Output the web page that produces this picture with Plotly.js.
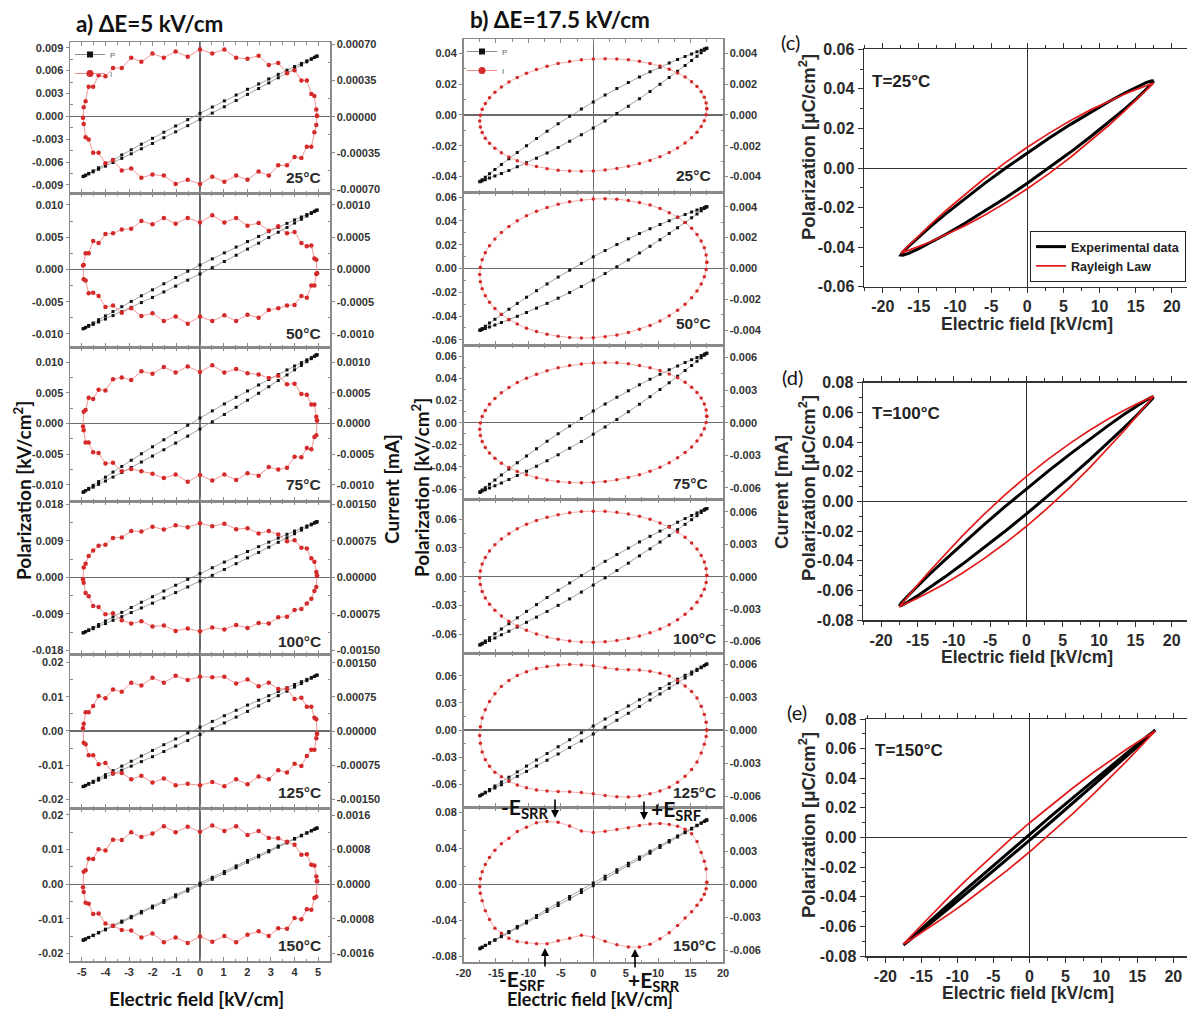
<!DOCTYPE html>
<html><head><meta charset="utf-8">
<script src="https://cdn.plot.ly/plotly-3.0.1.min.js"></script>
<style>html,body{margin:0;padding:0;background:#fff}#chart{width:1187px;height:1012px}</style>
</head><body><div id="chart"></div>
<script>
// ---------------- DATA ----------------
const temps = ['25°C','50°C','75°C','100°C','125°C','150°C'];
// column a (ΔE = 5 kV/cm): field samples [kV/cm]
const E_a = [4.95,4.92,4.84,4.71,4.52,4.29,4,3.68,3.31,2.91,2.48,2.01,1.53,1.03,0.52,0,-0.52,-1.03,-1.53,-2.01,-2.48,-2.91,-3.31,-3.68,-4,-4.29,-4.52,-4.71,-4.84,-4.92,-4.95,-4.92,-4.84,-4.71,-4.52,-4.29,-4,-3.68,-3.31,-2.91,-2.48,-2.01,-1.53,-1.03,-0.52,0,0.52,1.03,1.53,2.01,2.48,2.91,3.31,3.68,4,4.29,4.52,4.71,4.84,4.92];
// column b (ΔE = 17.5 kV/cm)
const E_b = [17.5,17.4,17.12,16.64,15.99,15.16,14.16,13,11.71,10.29,8.75,7.12,5.41,3.64,1.83,0,-1.83,-3.64,-5.41,-7.12,-8.75,-10.29,-11.71,-13,-14.16,-15.16,-15.99,-16.64,-17.12,-17.4,-17.5,-17.4,-17.12,-16.64,-15.99,-15.16,-14.16,-13,-11.71,-10.29,-8.75,-7.12,-5.41,-3.64,-1.83,0,1.83,3.64,5.41,7.12,8.75,10.29,11.71,13,14.16,15.16,15.99,16.64,17.12,17.4];
// columns c,d,e
const E_c = [17.5,17.23,16.44,15.16,13.41,11.25,8.75,5.99,3.04,0,-3.04,-5.99,-8.75,-11.25,-13.41,-15.16,-16.44,-17.23,-17.5,-17.23,-16.44,-15.16,-13.41,-11.25,-8.75,-5.99,-3.04,0,3.04,5.99,8.75,11.25,13.41,15.16,16.44,17.23,17.5];

// polarization, column a
const a25_P = [79e-4,78.6e-4,77.4e-4,75.5e-4,72.8e-4,69.4e-4,65.3e-4,60.5e-4,55.1e-4,49.1e-4,42.5e-4,35.5e-4,28e-4,20.3e-4,12.2e-4,4e-4,-4.3e-4,-12.6e-4,-20.8e-4,-28.8e-4,-36.5e-4,-43.8e-4,-50.6e-4,-56.9e-4,-62.5e-4,-67.4e-4,-71.5e-4,-74.8e-4,-77.1e-4,-78.5e-4,-79e-4,-78.6e-4,-77.4e-4,-75.5e-4,-72.8e-4,-69.4e-4,-65.3e-4,-60.5e-4,-55.1e-4,-49.1e-4,-42.5e-4,-35.5e-4,-28e-4,-20.3e-4,-12.2e-4,-4e-4,4.3e-4,12.6e-4,20.8e-4,28.8e-4,36.5e-4,43.8e-4,50.6e-4,56.9e-4,62.5e-4,67.4e-4,71.5e-4,74.8e-4,77.1e-4,78.5e-4];
const a50_P = [92e-4,91.6e-4,90.3e-4,88.2e-4,85.2e-4,81.4e-4,76.9e-4,71.5e-4,65.4e-4,58.7e-4,51.3e-4,43.3e-4,34.8e-4,25.8e-4,16.5e-4,7e-4,-2.7e-4,-12.4e-4,-22.1e-4,-31.6e-4,-40.8e-4,-49.5e-4,-57.7e-4,-65.2e-4,-72e-4,-77.9e-4,-82.9e-4,-86.8e-4,-89.7e-4,-91.4e-4,-92e-4,-91.6e-4,-90.3e-4,-88.2e-4,-85.2e-4,-81.4e-4,-76.9e-4,-71.5e-4,-65.4e-4,-58.7e-4,-51.3e-4,-43.3e-4,-34.8e-4,-25.8e-4,-16.5e-4,-7e-4,2.7e-4,12.4e-4,22.1e-4,31.6e-4,40.8e-4,49.5e-4,57.7e-4,65.2e-4,72e-4,77.9e-4,82.9e-4,86.8e-4,89.7e-4,91.4e-4];
const a75_P = [112e-4,111.5e-4,109.9e-4,107.4e-4,103.8e-4,99.2e-4,93.7e-4,87.3e-4,79.9e-4,71.7e-4,62.8e-4,53.1e-4,42.8e-4,31.9e-4,20.6e-4,9e-4,-2.8e-4,-14.7e-4,-26.5e-4,-38e-4,-49.3e-4,-59.9e-4,-70e-4,-79.2e-4,-87.5e-4,-94.7e-4,-100.8e-4,-105.7e-4,-109.2e-4,-111.3e-4,-112e-4,-111.5e-4,-109.9e-4,-107.4e-4,-103.8e-4,-99.2e-4,-93.7e-4,-87.3e-4,-79.9e-4,-71.7e-4,-62.8e-4,-53.1e-4,-42.8e-4,-31.9e-4,-20.6e-4,-9e-4,2.8e-4,14.7e-4,26.5e-4,38e-4,49.3e-4,59.9e-4,70e-4,79.2e-4,87.5e-4,94.7e-4,100.8e-4,105.7e-4,109.2e-4,111.3e-4];
const a100_P = [137e-4,136.4e-4,134.4e-4,131.2e-4,126.7e-4,121e-4,114.1e-4,106.1e-4,96.9e-4,86.8e-4,75.6e-4,63.7e-4,50.9e-4,37.6e-4,23.7e-4,9.5e-4,-4.9e-4,-19.4e-4,-33.7e-4,-47.8e-4,-61.4e-4,-74.3e-4,-86.4e-4,-97.5e-4,-107.6e-4,-116.3e-4,-123.6e-4,-129.4e-4,-133.6e-4,-136.2e-4,-137e-4,-136.4e-4,-134.4e-4,-131.2e-4,-126.7e-4,-121e-4,-114.1e-4,-106.1e-4,-96.9e-4,-86.8e-4,-75.6e-4,-63.7e-4,-50.9e-4,-37.6e-4,-23.7e-4,-9.5e-4,4.9e-4,19.4e-4,33.7e-4,47.8e-4,61.4e-4,74.3e-4,86.4e-4,97.5e-4,107.6e-4,116.3e-4,123.6e-4,129.4e-4,133.6e-4,136.2e-4];
const a125_P = [163e-4,162.2e-4,159.9e-4,156.1e-4,150.7e-4,143.9e-4,135.7e-4,126.1e-4,115.1e-4,103e-4,89.8e-4,75.5e-4,60.3e-4,44.4e-4,27.9e-4,11e-4,-6.2e-4,-23.4e-4,-40.4e-4,-57.1e-4,-73.3e-4,-88.6e-4,-103e-4,-116.2e-4,-128.1e-4,-138.4e-4,-147.1e-4,-154e-4,-159e-4,-162e-4,-163e-4,-162.2e-4,-159.9e-4,-156.1e-4,-150.7e-4,-143.9e-4,-135.7e-4,-126.1e-4,-115.1e-4,-103e-4,-89.8e-4,-75.5e-4,-60.3e-4,-44.4e-4,-27.9e-4,-11e-4,6.2e-4,23.4e-4,40.4e-4,57.1e-4,73.3e-4,88.6e-4,103e-4,116.2e-4,128.1e-4,138.4e-4,147.1e-4,154e-4,159e-4,162e-4];
const a150_P = [162e-4,161.1e-4,158.6e-4,154.4e-4,148.5e-4,141e-4,132.1e-4,121.7e-4,110.1e-4,97.2e-4,83.3e-4,68.4e-4,52.8e-4,36.6e-4,19.9e-4,3e-4,-14e-4,-30.8e-4,-47.3e-4,-63.4e-4,-78.8e-4,-93.3e-4,-106.7e-4,-119e-4,-130e-4,-139.5e-4,-147.5e-4,-153.8e-4,-158.3e-4,-161.1e-4,-162e-4,-161.1e-4,-158.6e-4,-154.4e-4,-148.5e-4,-141e-4,-132.1e-4,-121.7e-4,-110.1e-4,-97.2e-4,-83.3e-4,-68.4e-4,-52.8e-4,-36.6e-4,-19.9e-4,-3e-4,14e-4,30.8e-4,47.3e-4,63.4e-4,78.8e-4,93.3e-4,106.7e-4,119e-4,130e-4,139.5e-4,147.5e-4,153.8e-4,158.3e-4,161.1e-4];
// current, column a
const a25_I = [1e-5,7e-5,20e-5,22e-5,35e-5,35e-5,45e-5,42e-5,52e-5,50e-5,59e-5,56e-5,57e-5,65e-5,61e-5,65e-5,58e-5,63e-5,57e-5,61e-5,53e-5,57e-5,47e-5,47e-5,39e-5,40e-5,29e-5,29e-5,15e-5,9e-5,-1e-5,-7e-5,-20e-5,-22e-5,-35e-5,-35e-5,-45e-5,-42e-5,-52e-5,-50e-5,-59e-5,-56e-5,-57e-5,-65e-5,-61e-5,-65e-5,-58e-5,-63e-5,-57e-5,-61e-5,-53e-5,-57e-5,-47e-5,-47e-5,-39e-5,-40e-5,-29e-5,-29e-5,-15e-5,-8e-5];
const a50_I = [-6e-5,15e-5,17e-5,37e-5,36e-5,41e-5,58e-5,56e-5,67e-5,60e-5,72e-5,68e-5,80e-5,73e-5,84e-5,73e-5,80e-5,71e-5,80e-5,70e-5,75e-5,63e-5,62e-5,56e-5,55e-5,41e-5,44e-5,25e-5,25e-5,7e-5,6e-5,-15e-5,-17e-5,-37e-5,-36e-5,-41e-5,-58e-5,-56e-5,-67e-5,-60e-5,-72e-5,-68e-5,-80e-5,-73e-5,-84e-5,-73e-5,-80e-5,-71e-5,-80e-5,-70e-5,-75e-5,-63e-5,-60e-5,-56e-5,-55e-5,-41e-5,-44e-5,-25e-5,-25e-5,-7e-5];
const a75_I = [5e-5,11e-5,31e-5,31e-5,47e-5,48e-5,65e-5,64e-5,78e-5,74e-5,80e-5,82e-5,89e-5,83e-5,95e-5,84e-5,93e-5,83e-5,92e-5,81e-5,85e-5,71e-5,75e-5,72e-5,54e-5,55e-5,40e-5,42e-5,22e-5,19e-5,-5e-5,-11e-5,-31e-5,-31e-5,-47e-5,-48e-5,-65e-5,-64e-5,-78e-5,-74e-5,-78e-5,-82e-5,-89e-5,-83e-5,-95e-5,-84e-5,-93e-5,-83e-5,-92e-5,-81e-5,-85e-5,-71e-5,-75e-5,-72e-5,-54e-5,-55e-5,-40e-5,-42e-5,-22e-5,-19e-5];
const a100_I = [4e-5,11e-5,32e-5,39e-5,59e-5,61e-5,76e-5,74e-5,88e-5,95e-5,90e-5,101e-5,99e-5,110e-5,105e-5,111e-5,103e-5,107e-5,98e-5,104e-5,94e-5,95e-5,82e-5,81e-5,67e-5,65e-5,55e-5,44e-5,28e-5,20e-5,-4e-5,-11e-5,-32e-5,-39e-5,-59e-5,-61e-5,-76e-5,-74e-5,-88e-5,-95e-5,-90e-5,-101e-5,-99e-5,-110e-5,-105e-5,-111e-5,-103e-5,-107e-5,-98e-5,-104e-5,-94e-5,-95e-5,-82e-5,-81e-5,-67e-5,-65e-5,-54e-5,-44e-5,-28e-5,-20e-5];
const a125_I = [-6e-5,26e-5,29e-5,53e-5,53e-5,73e-5,70e-5,93e-5,92e-5,106e-5,98e-5,113e-5,104e-5,119e-5,118e-5,119e-5,112e-5,121e-5,106e-5,117e-5,100e-5,106e-5,86e-5,91e-5,72e-5,77e-5,55e-5,41e-5,41e-5,16e-5,6e-5,-26e-5,-29e-5,-53e-5,-53e-5,-73e-5,-70e-5,-93e-5,-92e-5,-106e-5,-98e-5,-113e-5,-104e-5,-119e-5,-116e-5,-119e-5,-112e-5,-121e-5,-106e-5,-117e-5,-100e-5,-106e-5,-86e-5,-91e-5,-72e-5,-77e-5,-55e-5,-41e-5,-41e-5,-16e-5];
const a150_I = [7e-5,18e-5,43e-5,45e-5,69e-5,68e-5,91e-5,98e-5,106e-5,107e-5,123e-5,114e-5,134e-5,123e-5,136e-5,121e-5,133e-5,120e-5,134e-5,117e-5,109e-5,120e-5,102e-5,103e-5,78e-5,81e-5,58e-5,59e-5,32e-5,29e-5,-7e-5,-18e-5,-43e-5,-45e-5,-69e-5,-68e-5,-91e-5,-96e-5,-106e-5,-107e-5,-123e-5,-114e-5,-134e-5,-123e-5,-136e-5,-121e-5,-133e-5,-120e-5,-134e-5,-117e-5,-109e-5,-120e-5,-102e-5,-103e-5,-78e-5,-81e-5,-58e-5,-59e-5,-32e-5,-29e-5];
// polarization, column b
const b25_P = [43.5e-3,43.35e-3,42.92e-3,42.18e-3,41.14e-3,39.8e-3,38.12e-3,36.13e-3,33.8e-3,31.14e-3,28.13e-3,24.79e-3,21.13e-3,17.17e-3,12.96e-3,8.5e-3,3.86e-3,-0.91e-3,-5.75e-3,-10.59e-3,-15.37e-3,-20e-3,-24.42e-3,-28.51e-3,-32.26e-3,-35.54e-3,-38.34e-3,-40.56e-3,-42.18e-3,-43.17e-3,-43.5e-3,-43.35e-3,-42.92e-3,-42.18e-3,-41.14e-3,-39.8e-3,-38.12e-3,-36.13e-3,-33.8e-3,-31.14e-3,-28.13e-3,-24.79e-3,-21.13e-3,-17.17e-3,-12.96e-3,-8.5e-3,-3.86e-3,0.91e-3,5.75e-3,10.59e-3,15.37e-3,20e-3,24.42e-3,28.51e-3,32.26e-3,35.54e-3,38.34e-3,40.56e-3,42.18e-3,43.17e-3];
const b50_P = [52e-3,51.82e-3,51.28e-3,50.39e-3,49.12e-3,47.48e-3,45.45e-3,43.03e-3,40.2e-3,36.99e-3,33.35e-3,29.33e-3,24.94e-3,20.19e-3,15.12e-3,9.8e-3,4.26e-3,-1.43e-3,-7.2e-3,-12.97e-3,-18.65e-3,-24.15e-3,-29.38e-3,-34.25e-3,-38.69e-3,-42.58e-3,-45.88e-3,-48.53e-3,-50.44e-3,-51.6e-3,-52e-3,-51.82e-3,-51.28e-3,-50.39e-3,-49.12e-3,-47.48e-3,-45.45e-3,-43.03e-3,-40.2e-3,-36.99e-3,-33.35e-3,-29.33e-3,-24.94e-3,-20.19e-3,-15.12e-3,-9.8e-3,-4.26e-3,1.43e-3,7.2e-3,12.97e-3,18.65e-3,24.15e-3,29.38e-3,34.25e-3,38.69e-3,42.58e-3,45.88e-3,48.53e-3,50.44e-3,51.6e-3];
const b75_P = [62.8e-3,62.57e-3,61.87e-3,60.73e-3,59.1e-3,57.01e-3,54.43e-3,51.37e-3,47.82e-3,43.79e-3,39.28e-3,34.31e-3,28.91e-3,23.11e-3,16.94e-3,10.5e-3,3.82e-3,-3.01e-3,-9.91e-3,-16.77e-3,-23.52e-3,-30.03e-3,-36.22e-3,-41.97e-3,-47.19e-3,-51.75e-3,-55.64e-3,-58.73e-3,-60.97e-3,-62.33e-3,-62.8e-3,-62.57e-3,-61.87e-3,-60.73e-3,-59.1e-3,-57.01e-3,-54.43e-3,-51.37e-3,-47.82e-3,-43.79e-3,-39.28e-3,-34.31e-3,-28.91e-3,-23.11e-3,-16.94e-3,-10.5e-3,-3.82e-3,3.01e-3,9.91e-3,16.77e-3,23.52e-3,30.03e-3,36.22e-3,41.97e-3,47.19e-3,51.75e-3,55.64e-3,58.73e-3,60.97e-3,62.33e-3];
const b100_P = [71.2e-3,70.91e-3,70.01e-3,68.55e-3,66.48e-3,63.84e-3,60.6e-3,56.81e-3,52.44e-3,47.55e-3,42.13e-3,36.22e-3,29.87e-3,23.13e-3,16.04e-3,8.7e-3,1.16e-3,-6.47e-3,-14.13e-3,-21.7e-3,-29.07e-3,-36.15e-3,-42.84e-3,-49.01e-3,-54.6e-3,-59.48e-3,-63.6e-3,-66.89e-3,-69.27e-3,-70.71e-3,-71.2e-3,-70.91e-3,-70.01e-3,-68.55e-3,-66.48e-3,-63.84e-3,-60.6e-3,-56.81e-3,-52.44e-3,-47.55e-3,-42.13e-3,-36.22e-3,-29.87e-3,-23.13e-3,-16.04e-3,-8.7e-3,-1.16e-3,6.47e-3,14.13e-3,21.7e-3,29.07e-3,36.15e-3,42.84e-3,49.01e-3,54.6e-3,59.48e-3,63.6e-3,66.89e-3,69.27e-3,70.71e-3];
const b125_P = [73e-3,72.65e-3,71.59e-3,69.86e-3,67.43e-3,64.35e-3,60.61e-3,56.27e-3,51.32e-3,45.86e-3,39.88e-3,33.45e-3,26.63e-3,19.49e-3,12.08e-3,4.5e-3,-3.18e-3,-10.87e-3,-18.49e-3,-25.93e-3,-33.12e-3,-39.96e-3,-46.36e-3,-52.23e-3,-57.51e-3,-62.09e-3,-65.95e-3,-69e-3,-71.21e-3,-72.55e-3,-73e-3,-72.65e-3,-71.59e-3,-69.86e-3,-67.43e-3,-64.35e-3,-60.61e-3,-56.27e-3,-51.32e-3,-45.86e-3,-39.88e-3,-33.45e-3,-26.63e-3,-19.49e-3,-12.08e-3,-4.5e-3,3.18e-3,10.87e-3,18.49e-3,25.93e-3,33.12e-3,39.96e-3,46.36e-3,52.23e-3,57.51e-3,62.09e-3,65.95e-3,69e-3,71.21e-3,72.55e-3];
const b150_P = [71.3e-3,70.93e-3,69.8e-3,67.95e-3,65.38e-3,62.13e-3,58.2e-3,53.65e-3,48.54e-3,42.89e-3,36.78e-3,30.25e-3,23.39e-3,16.26e-3,8.93e-3,1.5e-3,-5.97e-3,-13.38e-3,-20.67e-3,-27.75e-3,-34.52e-3,-40.93e-3,-46.88e-3,-52.31e-3,-57.16e-3,-61.37e-3,-64.88e-3,-67.67e-3,-69.68e-3,-70.89e-3,-71.3e-3,-70.93e-3,-69.8e-3,-67.95e-3,-65.38e-3,-62.13e-3,-58.2e-3,-53.65e-3,-48.54e-3,-42.89e-3,-36.78e-3,-30.25e-3,-23.39e-3,-16.26e-3,-8.93e-3,-1.5e-3,5.97e-3,13.38e-3,20.67e-3,27.75e-3,34.52e-3,40.93e-3,46.88e-3,52.31e-3,57.16e-3,61.37e-3,64.88e-3,67.67e-3,69.68e-3,70.89e-3];
// current, column b
const b25_I = [40e-5,78e-5,115e-5,151e-5,185e-5,217e-5,247e-5,274e-5,298e-5,319e-5,336e-5,350e-5,360e-5,365e-5,367e-5,365e-5,359e-5,349e-5,335e-5,317e-5,296e-5,272e-5,244e-5,215e-5,182e-5,148e-5,112e-5,75e-5,37e-5,-2e-5,-40e-5,-78e-5,-115e-5,-151e-5,-185e-5,-217e-5,-247e-5,-274e-5,-298e-5,-319e-5,-336e-5,-350e-5,-360e-5,-365e-5,-367e-5,-365e-5,-359e-5,-349e-5,-335e-5,-317e-5,-296e-5,-272e-5,-244e-5,-215e-5,-182e-5,-148e-5,-112e-5,-75e-5,-37e-5,2e-5];
const b50_I = [40e-5,87e-5,133e-5,177e-5,220e-5,260e-5,297e-5,331e-5,361e-5,388e-5,410e-5,427e-5,440e-5,448e-5,452e-5,450e-5,443e-5,432e-5,416e-5,395e-5,370e-5,341e-5,308e-5,271e-5,232e-5,190e-5,147e-5,101e-5,55e-5,7e-5,-40e-5,-87e-5,-133e-5,-177e-5,-220e-5,-260e-5,-297e-5,-331e-5,-361e-5,-388e-5,-410e-5,-427e-5,-440e-5,-448e-5,-452e-5,-450e-5,-443e-5,-432e-5,-416e-5,-395e-5,-370e-5,-341e-5,-308e-5,-271e-5,-232e-5,-190e-5,-147e-5,-101e-5,-55e-5,-7e-5];
const b75_I = [60e-5,117e-5,173e-5,227e-5,279e-5,327e-5,372e-5,413e-5,449e-5,480e-5,506e-5,527e-5,542e-5,551e-5,553e-5,550e-5,541e-5,526e-5,505e-5,478e-5,446e-5,410e-5,369e-5,323e-5,275e-5,223e-5,169e-5,113e-5,56e-5,-2e-5,-60e-5,-117e-5,-173e-5,-227e-5,-279e-5,-327e-5,-372e-5,-413e-5,-449e-5,-480e-5,-506e-5,-527e-5,-542e-5,-551e-5,-553e-5,-550e-5,-541e-5,-526e-5,-505e-5,-478e-5,-446e-5,-410e-5,-369e-5,-323e-5,-275e-5,-223e-5,-169e-5,-113e-5,-56e-5,2e-5];
const b100_I = [10e-5,73e-5,136e-5,196e-5,255e-5,311e-5,364e-5,412e-5,456e-5,495e-5,529e-5,557e-5,579e-5,594e-5,603e-5,605e-5,601e-5,590e-5,572e-5,549e-5,519e-5,484e-5,443e-5,397e-5,348e-5,294e-5,237e-5,177e-5,116e-5,53e-5,-10e-5,-73e-5,-136e-5,-196e-5,-255e-5,-311e-5,-364e-5,-412e-5,-456e-5,-495e-5,-529e-5,-557e-5,-579e-5,-594e-5,-603e-5,-605e-5,-601e-5,-590e-5,-572e-5,-549e-5,-519e-5,-484e-5,-443e-5,-397e-5,-348e-5,-294e-5,-237e-5,-177e-5,-116e-5,-53e-5];
const b125_I = [0,70e-5,140e-5,215e-5,290e-5,350e-5,400e-5,450e-5,490e-5,515e-5,535e-5,545e-5,548e-5,552e-5,565e-5,585e-5,592e-5,595e-5,590e-5,578e-5,560e-5,530e-5,495e-5,450e-5,395e-5,330e-5,260e-5,185e-5,110e-5,30e-5,-50e-5,-120e-5,-200e-5,-270e-5,-330e-5,-385e-5,-425e-5,-465e-5,-500e-5,-525e-5,-545e-5,-555e-5,-560e-5,-562e-5,-568e-5,-580e-5,-595e-5,-607e-5,-610e-5,-600e-5,-580e-5,-555e-5,-520e-5,-475e-5,-420e-5,-360e-5,-290e-5,-210e-5,-130e-5,-60e-5];
const b150_I = [20e-5,140e-5,210e-5,290e-5,390e-5,460e-5,500e-5,528e-5,545e-5,552e-5,548e-5,535e-5,515e-5,498e-5,482e-5,472e-5,485e-5,530e-5,565e-5,572e-5,560e-5,520e-5,480e-5,420e-5,370e-5,310e-5,245e-5,180e-5,115e-5,50e-5,-20e-5,-80e-5,-150e-5,-240e-5,-320e-5,-400e-5,-445e-5,-490e-5,-520e-5,-532e-5,-540e-5,-540e-5,-512e-5,-490e-5,-462e-5,-478e-5,-518e-5,-550e-5,-570e-5,-570e-5,-545e-5,-495e-5,-440e-5,-375e-5,-305e-5,-250e-5,-190e-5,-140e-5,-90e-5,-40e-5];
// panels c, d, e : experimental and Rayleigh-law loops [µC/cm²]
const c_exp = [44e-3,44.12e-3,43.12e-3,40.99e-3,37.77e-3,33.49e-3,28.22e-3,22.06e-3,15.16e-3,7.7e-3,-0.12e-3,-8.04e-3,-15.78e-3,-23.07e-3,-29.63e-3,-35.21e-3,-39.58e-3,-42.54e-3,-44e-3,-44.12e-3,-43.12e-3,-40.99e-3,-37.77e-3,-33.49e-3,-28.22e-3,-22.06e-3,-15.16e-3,-7.7e-3,0.12e-3,8.04e-3,15.78e-3,23.07e-3,29.63e-3,35.21e-3,39.58e-3,42.54e-3,44e-3];
const c_ray = [43e-3,42.67e-3,41.64e-3,39.87e-3,37.28e-3,33.8e-3,29.38e-3,23.98e-3,17.64e-3,10.5e-3,2.72e-3,-5.44e-3,-13.62e-3,-21.48e-3,-28.6e-3,-34.61e-3,-39.18e-3,-42.03e-3,-43e-3,-42.67e-3,-41.64e-3,-39.87e-3,-37.28e-3,-33.8e-3,-29.38e-3,-23.98e-3,-17.64e-3,-10.5e-3,-2.72e-3,5.44e-3,13.62e-3,21.48e-3,28.6e-3,34.61e-3,39.18e-3,42.03e-3,43e-3];
const d_exp = [70.5e-3,70.3e-3,68.21e-3,64.24e-3,58.49e-3,51.07e-3,42.12e-3,31.85e-3,20.54e-3,8.5e-3,-3.94e-3,-16.37e-3,-28.38e-3,-39.57e-3,-49.51e-3,-57.86e-3,-64.29e-3,-68.56e-3,-70.5e-3,-70.3e-3,-68.21e-3,-64.24e-3,-58.49e-3,-51.07e-3,-42.12e-3,-31.85e-3,-20.54e-3,-8.5e-3,3.94e-3,16.37e-3,28.38e-3,39.57e-3,49.51e-3,57.86e-3,64.29e-3,68.56e-3,70.5e-3];
const d_ray = [71e-3,70.43e-3,68.69e-3,65.69e-3,61.33e-3,55.5e-3,48.1e-3,39.11e-3,28.62e-3,16.8e-3,3.96e-3,-9.45e-3,-22.9e-3,-35.78e-3,-47.45e-3,-57.29e-3,-64.75e-3,-69.41e-3,-71e-3,-70.43e-3,-68.69e-3,-65.69e-3,-61.33e-3,-55.5e-3,-48.1e-3,-39.11e-3,-28.62e-3,-16.8e-3,-3.96e-3,9.45e-3,22.9e-3,35.78e-3,47.45e-3,57.29e-3,64.75e-3,69.41e-3,71e-3];
const e_exp = [72.5e-3,71.6e-3,68.59e-3,63.54e-3,56.6e-3,47.95e-3,37.87e-3,26.62e-3,14.54e-3,2e-3,-10.64e-3,-22.98e-3,-34.63e-3,-45.25e-3,-54.48e-3,-62.04e-3,-67.67e-3,-71.2e-3,-72.5e-3,-71.6e-3,-68.59e-3,-63.54e-3,-56.6e-3,-47.95e-3,-37.87e-3,-26.62e-3,-14.54e-3,-2e-3,10.64e-3,22.98e-3,34.63e-3,45.25e-3,54.48e-3,62.04e-3,67.67e-3,71.2e-3,72.5e-3];
const e_ray = [72e-3,71.21e-3,68.81e-3,64.8e-3,59.2e-3,52.03e-3,43.35e-3,33.27e-3,22e-3,9.8e-3,-3e-3,-15.97e-3,-28.65e-3,-40.53e-3,-51.1e-3,-59.9e-3,-66.51e-3,-70.61e-3,-72e-3,-71.21e-3,-68.81e-3,-64.8e-3,-59.2e-3,-52.03e-3,-43.35e-3,-33.27e-3,-22e-3,-9.8e-3,3e-3,15.97e-3,28.65e-3,40.53e-3,51.1e-3,59.9e-3,66.51e-3,70.61e-3,72e-3];

// tick values
const aL_ticks = [[-0.009,-0.006,-0.003,0,0.003,0.006,0.009],[-0.01,-0.005,0,0.005,0.01],[-0.01,-0.005,0,0.005,0.01],[-0.018,-0.009,0,0.009,0.018],[-0.02,-0.01,0,0.01,0.02],[-0.02,-0.01,0,0.01,0.02]];
const aL_dec = [3,3,3,3,2,2];
const aR_ticks = [[-0.0007,-0.00035,0,0.00035,0.0007],[-0.001,-0.0005,0,0.0005,0.001],[-0.001,-0.0005,0,0.0005,0.001],[-0.0015,-0.00075,0,0.00075,0.0015],[-0.0015,-0.00075,0,0.00075,0.0015],[-0.0016,-0.0008,0,0.0008,0.0016]];
const aR_dec = [5,4,4,5,5,4];
const bL_ticks = [[-0.04,-0.02,0,0.02,0.04],[-0.06,-0.04,-0.02,0,0.02,0.04,0.06],[-0.06,-0.04,-0.02,0,0.02,0.04,0.06],[-0.06,-0.03,0,0.03,0.06],[-0.06,-0.03,0,0.03,0.06],[-0.08,-0.04,0,0.04,0.08]];
const bR_ticks = [[-0.004,-0.002,0,0.002,0.004],[-0.004,-0.002,0,0.002,0.004],[-0.006,-0.003,0,0.003,0.006],[-0.006,-0.003,0,0.003,0.006],[-0.006,-0.003,0,0.003,0.006],[-0.006,-0.003,0,0.003,0.006]];
const xa_ticks = [-5,-4,-3,-2,-1,0,1,2,3,4,5];
const xb_ticks = [-20,-15,-10,-5,0,5,10,15,20];
const ycd_ticks = [[-0.06,-0.04,-0.02,0,0.02,0.04,0.06],[-0.08,-0.06,-0.04,-0.02,0,0.02,0.04,0.06,0.08],[-0.08,-0.06,-0.04,-0.02,0,0.02,0.04,0.06,0.08]];

// ---------------- LAYOUT GEOMETRY (px) ----------------
const W = 1187, H = 1012;
const fx = p => p / W, fy = p => 1 - p / H;
const aBounds = [42,193,347,501,654,808,961];
const bBounds = [39,192,345,499,653,807,962];
const aL_range = [[-0.01005,0.00975],[-0.01202,0.01186],[-0.01263,0.01247],[-0.0189,0.01882],[-0.02254,0.02249],[-0.0222,0.022]];
const aR_range = [[-0.000738,0.000722],[-0.001202,0.001186],[-0.001263,0.001247],[-0.001575,0.001568],[-0.00169,0.00169],[-0.001776,0.001762]];
const bL_range = [[-0.0502,0.0495],[-0.0643,0.0643],[-0.069,0.0703],[-0.0795,0.081],[-0.0853,0.0853],[-0.0861,0.0857]];
const bR_range = [[-0.00502,0.00495],[-0.00497,0.00495],[-0.00702,0.00715],[-0.00705,0.00717],[-0.007,0.007],[-0.00706,0.00703]];
const cde = [
  {xd:[864,1187], xr:[-22.6,22.1], yd:[49.3,286.7], yr:[-0.06,0.06]},
  {xd:[863,1187], xr:[-22.5,22.1], yd:[382.7,620], yr:[-0.08,0.08]},
  {xd:[866,1187], xr:[-22.7,21.9], yd:[719,956], yr:[-0.08,0.08]}
];

const fmt = (v, d) => (v < 0 ? '-' : '') + Math.abs(v).toFixed(d);
const mids = v => v.slice(1).map((x, i) => (x + v[i]) / 2);
const close = arr => arr.concat([arr[0]]);
const xk = n => n === 1 ? 'xaxis' : 'xaxis' + n, xr = n => n === 1 ? 'x' : 'x' + n;
const yk = n => n === 1 ? 'yaxis' : 'yaxis' + n, yr = n => n === 1 ? 'y' : 'y' + n;

const AX = '#8a8a8a';
const tfAB = {family:'Liberation Sans, Arial, sans-serif', size:11, color:'#333', weight:'bold'};
const tfC = {family:'Liberation Sans, Arial, sans-serif', size:16, color:'#2a2a2a', weight:'bold'};

const layout = {
  width: W, height: H, margin:{l:0,r:0,t:0,b:0},
  paper_bgcolor:'#fff', plot_bgcolor:'#fff', showlegend:true,
  legend:{x:fx(70), y:fy(40), xanchor:'left', yanchor:'top', bgcolor:'rgba(0,0,0,0)', font:{family:'Liberation Sans, Arial', size:8, color:'#666'}, itemwidth:30, tracegroupgap:0},
  legend2:{x:fx(462), y:fy(37), xanchor:'left', yanchor:'top', bgcolor:'rgba(0,0,0,0)', font:{family:'Liberation Sans, Arial', size:8, color:'#666'}, itemwidth:30, tracegroupgap:0},
  legend3:{x:fx(1030), y:fy(231), xanchor:'left', yanchor:'top', bgcolor:'#fff', bordercolor:'#222', borderwidth:1, font:{family:'Liberation Sans, Arial', size:12.5, color:'#222', weight:'bold'}, itemwidth:30, tracegroupgap:0},
  annotations: []
};
const data = [];

function xAB(domain, range, ticks, minorStep, showLab, anchor) {
  const minor = [];
  for (let v = ticks[0]; v <= ticks[ticks.length-1] + 1e-9; v += minorStep) minor.push(+v.toFixed(4));
  return {domain, range, anchor, showline:true, linecolor:AX, linewidth:1.5, mirror:'ticks',
    ticks:'inside', ticklen:4, tickwidth:1, tickcolor:AX, tickmode:'array', tickvals:ticks,
    ticktext:ticks.map(v => fmt(v,0)), showticklabels:showLab, tickfont:tfAB,
    minor:{tickmode:'array', tickvals:minor, ticks:'inside', ticklen:2.5, tickcolor:AX},
    zeroline:true, zerolinecolor:'#6a6a6a', zerolinewidth:1.3, showgrid:false, automargin:false, fixedrange:true};
}
function yAB(domain, range, ticks, dec, side, anchor, overlay) {
  const o = {domain, range, anchor, side, showline:true, linecolor:AX, linewidth:1.5,
    ticks:'outside', ticklen:3, tickwidth:1, tickcolor:AX, tickmode:'array', tickvals:ticks,
    ticktext:ticks.map(v => fmt(v,dec)), tickfont:tfAB,
    minor:{tickmode:'array', tickvals:mids(ticks), ticks:'inside', ticklen:2.5, tickcolor:AX},
    zeroline: !overlay, zerolinecolor:'#6a6a6a', zerolinewidth:1.3, showgrid:false, automargin:false, fixedrange:true};
  if (overlay) o.overlaying = overlay;
  return o;
}

// legend-only entries (no data) with the larger legend symbols of the original
const legP = {type:'scatter', x:[null], y:[null], mode:'lines+markers', name:'P', line:{color:'#8c8c8c', width:1}, marker:{symbol:'square', size:6, color:'#111'}};
const legI = {type:'scatter', x:[null], y:[null], mode:'lines+markers', name:'I', line:{color:'#ef8a8a', width:1}, marker:{symbol:'circle', size:7, color:'#d42a2a'}};

// column a
const aP = [a25_P,a50_P,a75_P,a100_P,a125_P,a150_P];
const aI = [a25_I,a50_I,a75_I,a100_I,a125_I,a150_I];
for (let i = 0; i < 6; i++) {
  const xi = 1 + i, yl = 1 + 2*i, yrr = 2 + 2*i;
  const dom = [fy(aBounds[i+1]), fy(aBounds[i])];
  layout[xk(xi)] = xAB([fx(70), fx(330)], [-5.5,5.5], xa_ticks, 0.5, i === 5, yr(yl));
  layout[yk(yl)] = yAB(dom, aL_range[i], aL_ticks[i], aL_dec[i], 'left', xr(xi), null);
  layout[yk(yrr)] = yAB(dom, aR_range[i], aR_ticks[i], aR_dec[i], 'right', xr(xi), yr(yl));
  data.push({x:close(E_a), y:close(aP[i]), xaxis:xr(xi), yaxis:yr(yl), mode:'lines+markers', name:'P',
    line:{color:'#8c8c8c', width:0.8}, marker:{symbol:'square', size:3, color:'#111'}, showlegend:false});
  data.push({x:close(E_a), y:close(aI[i]), xaxis:xr(xi), yaxis:yr(yrr), mode:'lines+markers', name:'I',
    line:{color:'#ef8a8a', width:0.9}, marker:{symbol:'circle', size:4.5, color:'#d42a2a'}, showlegend:false});
}
data.push(Object.assign({}, legP, {xaxis:'x', yaxis:'y', legend:'legend'}));
data.push(Object.assign({}, legI, {xaxis:'x', yaxis:'y', legend:'legend'}));
// column b
const bP = [b25_P,b50_P,b75_P,b100_P,b125_P,b150_P];
const bI = [b25_I,b50_I,b75_I,b100_I,b125_I,b150_I];
for (let i = 0; i < 6; i++) {
  const xi = 7 + i, yl = 13 + 2*i, yrr = 14 + 2*i;
  const dom = [fy(bBounds[i+1]), fy(bBounds[i])];
  layout[xk(xi)] = xAB([fx(463.5), fx(723)], [-20,20], xb_ticks, 2.5, i === 5, yr(yl));
  layout[yk(yl)] = yAB(dom, bL_range[i], bL_ticks[i], 2, 'left', xr(xi), null);
  layout[yk(yrr)] = yAB(dom, bR_range[i], bR_ticks[i], 3, 'right', xr(xi), yr(yl));
  data.push({x:close(E_b), y:close(bP[i]), xaxis:xr(xi), yaxis:yr(yl), mode:'lines+markers', name:'P',
    line:{color:'#8c8c8c', width:0.8}, marker:{symbol:'square', size:3, color:'#111'}, showlegend:false});
  data.push({x:close(E_b), y:close(bI[i]), xaxis:xr(xi), yaxis:yr(yrr), mode:'lines+markers', name:'I',
    line:{color:'#ef9a9a', width:0.8}, marker:{symbol:'circle', size:3.5, color:'#d42a2a'}, showlegend:false});
}
data.push(Object.assign({}, legP, {xaxis:'x7', yaxis:'y13', legend:'legend2'}));
data.push(Object.assign({}, legI, {xaxis:'x7', yaxis:'y13', legend:'legend2'}));
// columns c, d, e
const cdeExp = [c_exp, d_exp, e_exp], cdeRay = [c_ray, d_ray, e_ray];
for (let j = 0; j < 3; j++) {
  const xi = 13 + j, yi = 25 + j, g = cde[j];
  const yt = ycd_ticks[j];
  layout[xk(xi)] = {domain:[fx(g.xd[0]), fx(g.xd[1])], range:g.xr, anchor:yr(yi), showline:true, linecolor:'#333', linewidth:1.5,
    mirror:'ticks', ticks:'outside', ticklen:5, tickcolor:'#333', tickmode:'array', tickvals:xb_ticks,
    ticktext:xb_ticks.map(v => fmt(v,0)), tickfont:tfC,
    minor:{tickmode:'array', tickvals:[-22.5,-17.5,-12.5,-7.5,-2.5,2.5,7.5,12.5,17.5], ticks:'outside', ticklen:3, tickcolor:'#333'},
    zeroline:true, zerolinecolor:'#333', zerolinewidth:1, showgrid:false, automargin:false, fixedrange:true};
  layout[yk(yi)] = {domain:[fy(g.yd[1]), fy(g.yd[0])], range:g.yr, anchor:xr(xi), showline:true, linecolor:'#333', linewidth:1.5,
    mirror:'ticks', ticks:'outside', ticklen:5, tickcolor:'#333', tickmode:'array', tickvals:yt,
    ticktext:yt.map(v => fmt(v,2)), tickfont:tfC,
    minor:{tickmode:'array', tickvals:mids(yt), ticks:'outside', ticklen:3, tickcolor:'#333'},
    zeroline:true, zerolinecolor:'#333', zerolinewidth:1, showgrid:false, automargin:false, fixedrange:true};
  data.push({x:E_c, y:cdeExp[j], xaxis:xr(xi), yaxis:yr(yi), mode:'lines', name:'Experimental data',
    line:{color:'#000', width:3}, showlegend:j===0, legend:'legend3'});
  data.push({x:E_c, y:cdeRay[j], xaxis:xr(xi), yaxis:yr(yi), mode:'lines', name:'Rayleigh Law',
    line:{color:'#e31a1a', width:1.7}, showlegend:j===0, legend:'legend3'});
}

// ---------------- TEXT ----------------
const CAL = 'Lato, "Open Sans", sans-serif';
const ARB = 'Liberation Sans, Arial, sans-serif';
function T(text, px, py, o) {
  o = o || {};
  layout.annotations.push({xref:'paper', yref:'paper', x:fx(px), y:fy(py), text, showarrow:false,
    xanchor:o.xa || 'center', yanchor:o.ya || 'middle', textangle:o.ang || 0,
    font:{family:o.fam || CAL, size:o.size || 16, color:o.color || '#111', weight:o.w || 'bold'}});
}
function ARROW(px, py, dy) {
  layout.annotations.push({xref:'paper', yref:'paper', x:fx(px), y:fy(py), ax:0, ay:dy, text:'',
    showarrow:true, arrowhead:2, arrowsize:1, arrowwidth:1.6, arrowcolor:'#000'});
}
T('a) ΔE=5 kV/cm', 74, 24, {xa:'left', size:22.5});
T('b) ΔE=17.5 kV/cm', 468, 20, {xa:'left', size:22.5});
const aTy = [178,333,484,641,792,945];
const bTx = [713,713,710,718,718,718], bTy = [175,323,483,638,792,945];
for (let i = 0; i < 6; i++) {
  T(temps[i], 323, aTy[i], {xa:'right', fam:ARB, size:15.5, color:'#2a2a2a'});
  T(temps[i], bTx[i], bTy[i], {xa:'right', fam:ARB, size:15.5, color:'#2a2a2a'});
}
T('Electric field [kV/cm]', 196, 998, {size:19});
T('Electric field [kV/cm]', 590, 999, {size:18});
T('Polarization [kV/cm<sup>2</sup>]', 22, 491, {ang:-90, size:19});
T('Current [mA]', 391, 489, {ang:-90, size:19});
T('Polarization [kV/cm<sup>2</sup>]', 420, 488, {ang:-90, size:19});
T('(c)', 790, 42, {size:20, w:'normal'});
T('(d)', 792, 377, {size:20, w:'normal'});
T('(e)', 797, 712, {size:20, w:'normal'});
T('T=25°C', 870, 82, {xa:'left', fam:ARB, size:17, color:'#222'});
T('T=100°C', 870, 413, {xa:'left', fam:ARB, size:17, color:'#222'});
T('T=150°C', 873, 750, {xa:'left', fam:ARB, size:17, color:'#222'});
T('Electric field [kV/cm]', 1026.5, 324, {fam:ARB, size:17.5, color:'#2a2a2a'});
T('Electric field [kV/cm]', 1026.5, 657, {fam:ARB, size:17.5, color:'#2a2a2a'});
T('Electric field [kV/cm]', 1028, 993, {fam:ARB, size:17.5, color:'#2a2a2a'});
T('Polarization [μC/cm<sup>2</sup>]', 807, 147, {ang:-90, fam:ARB, size:18.5, color:'#2a2a2a'});
T('Polarization [μC/cm<sup>2</sup>]', 807, 488, {ang:-90, fam:ARB, size:18.5, color:'#2a2a2a'});
T('Polarization [μC/cm<sup>2</sup>]', 807, 825, {ang:-90, fam:ARB, size:18.5, color:'#2a2a2a'});
T('Current [mA]', 781, 492, {ang:-90, fam:ARB, size:18.5, color:'#2a2a2a'});
// switching-field labels
T('-E<sub>SRR</sub>', 550, 808, {xa:'right', size:21});
T('+E<sub>SRF</sub>', 649, 810, {xa:'left', size:21});
T('-E<sub>SRF</sub>', 497, 980, {xa:'left', size:21});
T('+E<sub>SRR</sub>', 626, 981, {xa:'left', size:21});
ARROW(555, 818, -20);
ARROW(644, 820, -20);
ARROW(545, 948, 20);
ARROW(635, 949, 20);

Plotly.newPlot('chart', data, layout, {staticPlot:true, displayModeBar:false});
</script>
</body></html>
